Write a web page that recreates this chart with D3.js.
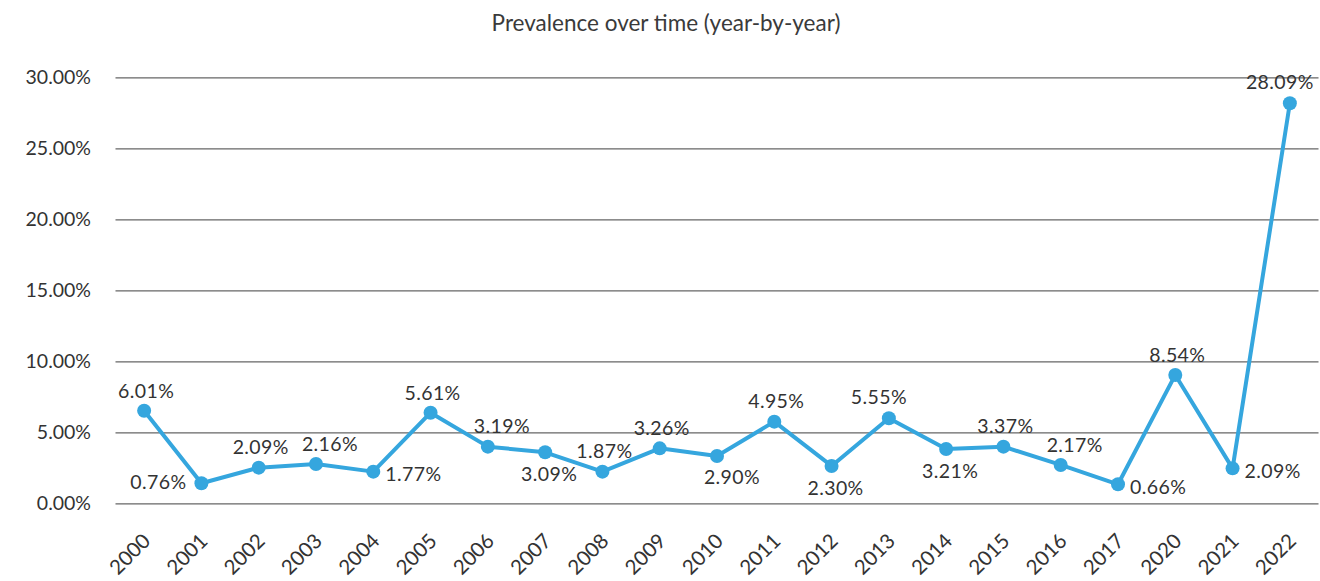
<!DOCTYPE html>
<html>
<head>
<meta charset="utf-8">
<script src="https://cdn.jsdelivr.net/npm/d3@7"></script>
<style>
    html, body { margin: 0; padding: 0; background: #fff; }
    svg text { font-family: "Lato", "Open Sans", sans-serif; fill: #333; }
</style>
</head>
<body>
<div id="container"></div>
<script>
"use strict";

// chart data
const years = ["2000", "2001", "2002", "2003", "2004", "2005", "2006", "2007", "2008", "2009", "2010",
    "2011", "2012", "2013", "2014", "2015", "2016", "2017", "2020", "2021", "2022"];
// plotted values (as drawn in the picture)
const values = [6.52, 1.41, 2.51, 2.77, 2.23, 6.38, 3.99, 3.59, 2.23, 3.87, 3.33,
    5.75, 2.63, 5.99, 3.82, 3.99, 2.70, 1.34, 9.04, 2.46, 28.17];
// data label texts
const labels = ["6.01%", "0.76%", "2.09%", "2.16%", "1.77%", "5.61%", "3.19%", "3.09%", "1.87%", "3.26%", "2.90%",
    "4.95%", "2.30%", "5.55%", "3.21%", "3.37%", "2.17%", "0.66%", "8.54%", "2.09%", "28.09%"];
// where each data label sits relative to its point
const labelSide = ["t", "l", "t", "tr", "r", "t", "tr", "b", "t", "t", "br",
    "t", "b", "tl", "b", "t", "tr", "r", "t", "r", "tl"];
const yTicks = [0, 5, 10, 15, 20, 25, 30];

const W = 1320, H = 581;
const margin = { top: 77.3, right: 1.5, bottom: 77.7, left: 115.5 };

const svg = d3.select("#container")
    .append("svg")
    .attr("width", W)
    .attr("height", H);

const x = d3.scalePoint()
    .domain(years)
    .range([margin.left, W - margin.right])
    .padding(0.5);

const y = d3.scaleLinear()
    .domain([0, 30])
    .range([H - margin.bottom, margin.top]);

// title
svg.append("text")
    .attr("x", 666)
    .attr("y", 31)
    .attr("text-anchor", "middle")
    .style("font-size", "22.5px")
    .style("fill", "#3a3a3a")
    .text("Prevalence over time (year-by-year)");

// gridlines + y labels
const yAxis = svg.append("g")
    .attr("transform", `translate(${margin.left},0)`)
    .call(d3.axisLeft(y)
        .tickValues(yTicks)
        .tickSize(-(W - margin.left - margin.right))
        .tickPadding(24.5)
        .tickFormat((d) => d.toFixed(2) + "%"));
yAxis.select(".domain").remove();
yAxis.selectAll(".tick line").attr("stroke", "#666").attr("stroke-width", 1.3);
yAxis.selectAll(".tick text")
    .attr("font-family", null)
    .style("font-size", "19.5px")
    .style("fill", "#333");

// x labels
const xAxis = svg.append("g")
    .attr("transform", `translate(0,${H - margin.bottom})`)
    .call(d3.axisBottom(x).tickSize(0).tickPadding(0));
xAxis.select(".domain").remove();
xAxis.selectAll(".tick text")
    .attr("font-family", null)
    .style("font-size", "20.5px")
    .style("fill", "#333")
    .attr("text-anchor", "end")
    .attr("dy", null)
    .attr("y", 0)
    .attr("transform", "translate(7,39) rotate(-45)");

// series
const data = years.map((yr, i) => ({ year: yr, value: values[i], label: labels[i], side: labelSide[i] }));
const blue = "#35a6de";

svg.append("path")
    .datum(data)
    .attr("fill", "none")
    .attr("stroke", blue)
    .attr("stroke-width", 4)
    .attr("stroke-linejoin", "round")
    .attr("d", d3.line().x((d) => x(d.year)).y((d) => y(d.value)));

svg.selectAll("circle.pt")
    .data(data)
    .join("circle")
    .attr("class", "pt")
    .attr("cx", (d) => x(d.year))
    .attr("cy", (d) => y(d.value))
    .attr("r", 7)
    .attr("fill", blue);

// data labels
const offsets = {
    t: [2, -20, "middle"], tr: [14, -20, "middle"], tl: [-10, -21, "middle"],
    b: [4, 22, "middle"], br: [15, 21, "middle"],
    l: [-15, -1, "end"], r: [12, 3, "start"],
};
svg.selectAll("text.lbl")
    .data(data)
    .join("text")
    .attr("class", "lbl")
    .attr("x", (d) => x(d.year) + offsets[d.side][0])
    .attr("y", (d) => y(d.value) + offsets[d.side][1])
    .attr("dy", "0.35em")
    .attr("text-anchor", (d) => offsets[d.side][2])
    .style("font-size", "19.5px")
    .style("letter-spacing", "0.4px")
    .text((d) => d.label);
</script>
</body>
</html>
